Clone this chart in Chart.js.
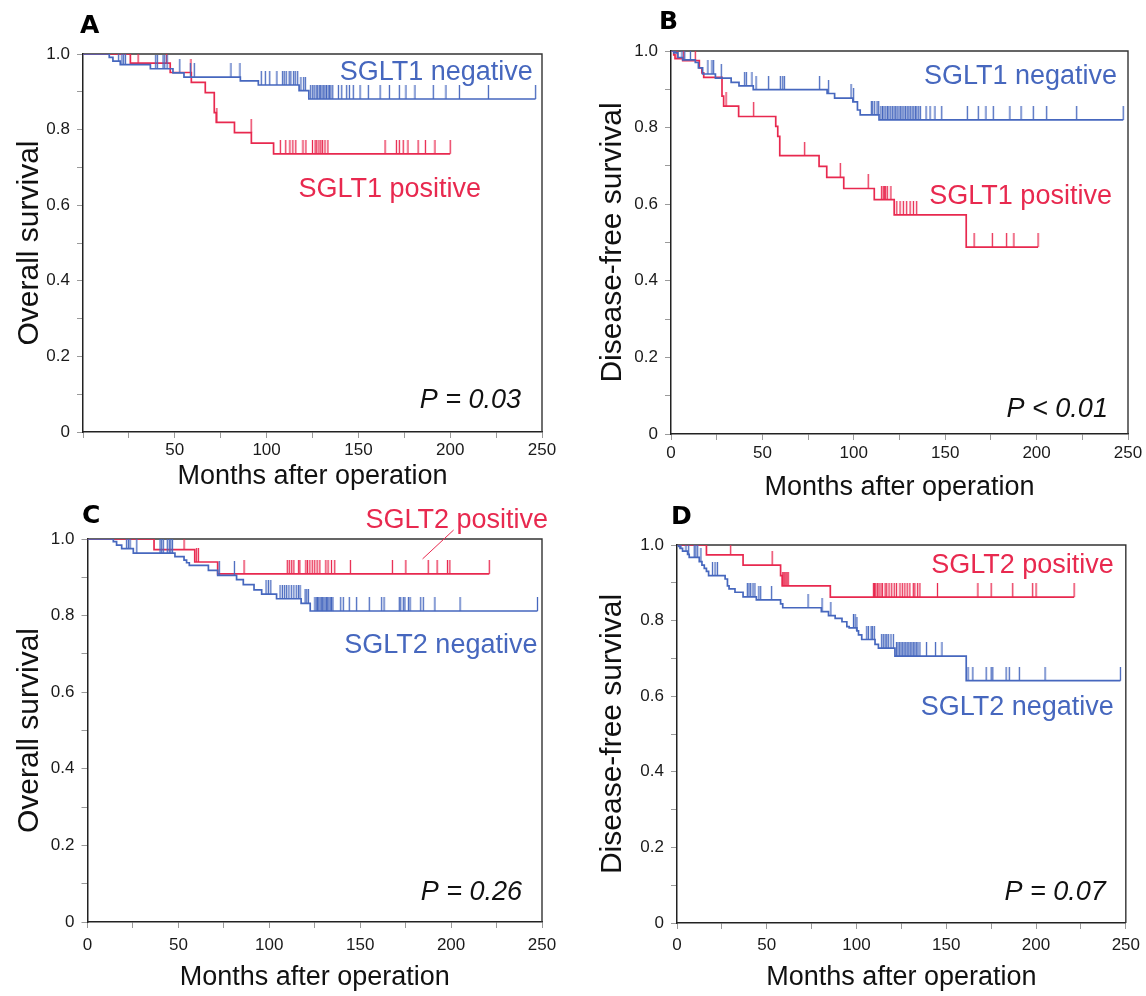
<!DOCTYPE html>
<html>
<head>
<meta charset="utf-8">
<title>SGLT1 / SGLT2 survival</title>
<script src="https://cdn.jsdelivr.net/npm/chart.js@4.4.1/dist/chart.umd.min.js"></script>
<style>
  html, body { margin: 0; padding: 0; background: #fff; }
  #wrap { position: relative; width: 1146px; height: 996px; }
  #wrap canvas { position: absolute; left: 0; top: 0; }
</style>
</head>
<body>
<div id="wrap">
  <canvas id="panelA" width="1146" height="996"></canvas>
  <canvas id="panelB" width="1146" height="996"></canvas>
  <canvas id="panelC" width="1146" height="996"></canvas>
  <canvas id="panelD" width="1146" height="996"></canvas>
</div>
<script>
// --- Panel A: overall survival, SGLT1 ---
// event times (months) and survival after each event, then censor times
const aNegTime = [14.3, 16.3, 20.3, 36.7, 49, 55, 85.7, 95.5, 117.7, 123];
const aNegSurv = [0.991, 0.981, 0.972, 0.961, 0.95, 0.939, 0.929, 0.918, 0.903, 0.881];
const aNegCens = [19.4, 21.2, 22.1, 23.1, 39.6, 40.5, 43.6, 44.5, 45.8, 52.7, 58.5, 60.6, 80.6, 85.5,
  97.1, 99.3, 101.7, 105.6, 108.7, 109.6, 110.7, 112.3, 113.2, 114.7, 115.6, 116.9, 118.7, 120.2, 121.1,
  124, 125.1, 125.9, 127, 127.8, 128.7, 129.4, 130.2, 131.1, 131.8, 132.6, 133.5, 134.2, 135, 136,
  139.1, 140.9, 143.6, 145.1, 147.2, 150.9, 155.4, 161.8, 166.9, 172.3, 175.9, 180.8, 190.8, 197.7,
  205, 220.8, 246.5];
const aPosTime = [25.8, 47.5, 59, 66.6, 71.5, 72.6, 82.5, 91.7, 103.8];
const aPosSurv = [0.976, 0.951, 0.925, 0.898, 0.845, 0.819, 0.792, 0.764, 0.736];
const aPosCens = [30, 45.5, 58.8, 72.9, 91.6, 107.5, 110.4, 112.7, 114.3, 115.9, 119.8, 121.4, 125, 126.4,
  127.3, 128.5, 129.5, 130.4, 131.8, 133.4, 164.5, 170.7, 172.3, 174.4, 177, 182.5, 186.5, 191.7, 200];

// --- Panel B: disease-free survival, SGLT1 ---
const bNegTime = [1.5, 3.8, 6.4, 13.3, 15, 17.3, 24.3, 32.9, 37.2, 45, 85.4, 89.5, 99.5, 102, 103.5, 113.8];
const bNegSurv = [0.995, 0.983, 0.977, 0.97, 0.956, 0.94, 0.929, 0.918, 0.909, 0.899, 0.889, 0.877,
  0.867, 0.846, 0.833, 0.82];
const bNegCens = [2.4, 6, 7.5, 10.6, 20.2, 22.4, 23.3, 27.5, 40.3, 41.2, 44.3, 46.5, 53.4, 59.8, 61.1, 62,
  81.3, 86.2, 98.5, 99.9, 109.6, 110.3, 111.4, 112.7, 113.6, 114.8, 115.7, 116.5, 117.5, 118.4, 119.2,
  120.2, 121.1, 122, 122.9, 123.7, 124.7, 125.6, 126.4, 127.4, 128.3, 129.2, 130.1, 130.9, 131.9, 132.8,
  133.7, 134.5, 135.5, 136.4, 139.5, 141.7, 144.4, 148.1, 162.1, 168.1, 172.3, 176.3, 185.4, 191.5,
  198.2, 205.5, 221.9, 247.4];
const bPosTime = [1.5, 2.2, 6.4, 15.5, 16.9, 17.9, 27.9, 28.8, 37, 57.3, 58.4, 59.5, 81, 85.2, 94.5,
  111.2, 122.1, 161.5];
const bPosSurv = [0.99, 0.98, 0.975, 0.956, 0.943, 0.931, 0.882, 0.856, 0.829, 0.803, 0.777, 0.727,
  0.699, 0.67, 0.641, 0.612, 0.572, 0.488];
const bPosCens = [3.3, 6.9, 13.3, 30.1, 45.2, 73.1, 92.6, 107.9, 115.2, 116.1, 116.7, 117.4, 118.3, 120.3,
  123.5, 125.3, 127.1, 128.9, 130.8, 132.6, 134.4, 165.8, 175.8, 183.6, 187.6, 200.8];

// --- Panel C: overall survival, SGLT2 ---
const cNegTime = [14.2, 16, 18.8, 25.2, 48.1, 53.1, 54.5, 56, 66.5, 71.6, 82, 85.7, 91.6, 95.8, 104,
  117.5, 122.5];
const cNegSurv = [0.993, 0.984, 0.975, 0.963, 0.954, 0.945, 0.938, 0.931, 0.918, 0.905, 0.894, 0.881,
  0.867, 0.856, 0.844, 0.832, 0.812];
const cNegCens = [21.5, 22.5, 23.4, 27.1, 39.9, 40.8, 41.7, 43.9, 45, 45.8, 46.7, 72.5, 80.8, 98.2, 99.5,
  100.8, 105.9, 107.2, 108.4, 109.5, 110.8, 112.1, 113.5, 114.8, 116, 116.9, 119.7, 120.6, 121.5,
  125.1, 125.8, 126.5, 127.2, 127.9, 128.6, 129.3, 130, 130.7, 131.4, 132.1, 132.8, 133.5, 134.2, 135,
  139.3, 140.7, 144, 148, 155, 161.8, 163.1, 171.5, 172.3, 173.7, 174.6, 176.5, 177.4, 183.3, 184.7,
  191.1, 204.9, 247.5];
const cPosTime = [36.6, 59, 71.6];
const cPosSurv = [0.972, 0.94, 0.909];
const cPosCens = [53.1, 60, 61, 86.1, 109.9, 111, 112.3, 113.5, 116.1, 116.8, 120.1, 121, 122.3, 123.6,
  125, 126.3, 127.8, 131.1, 132.3, 134.2, 136, 144.6, 167.7, 175.1, 187.4, 192.3, 198, 199.3, 221];

// --- Panel D: disease-free survival, SGLT2 ---
const dNegTime = [0.9, 1.7, 3.1, 5.9, 6.8, 12.4, 13.9, 15.2, 16.4, 17.6, 26.8, 28.1, 29, 32.3, 36.8, 44.2,
  57.7, 58.9, 80.4, 84.4, 88.1, 91.9, 94.6, 95.9, 100.2, 101.1, 102.9, 110.3, 112.2, 121.4, 161.1];
const dNegSurv = [0.996, 0.991, 0.984, 0.975, 0.967, 0.956, 0.947, 0.938, 0.93, 0.919, 0.91, 0.892, 0.884,
  0.875, 0.863, 0.855, 0.844, 0.834, 0.824, 0.813, 0.806, 0.797, 0.784, 0.781, 0.773, 0.762, 0.75,
  0.737, 0.727, 0.706, 0.641];
const dNegCens = [2.2, 5, 6.5, 9.6, 10.5, 11.5, 13.3, 19.8, 21.2, 22.5, 39.2, 40.1, 41, 42.3, 43.4, 45.6,
  46.6, 52.7, 73, 80.8, 85.7, 98.3, 99.2, 100.2, 105.7, 106.6, 108.1, 108.8, 109.9, 114, 114.9, 115.9,
  116.8, 117.7, 119.2, 120.5, 122.3, 123.1, 124, 124.8, 125.7, 126.5, 127.4, 128.2, 129.1, 129.9, 130.8,
  131.6, 132.5, 133.3, 134.2, 135.3, 139, 144, 147.6, 162.1, 164.8, 172.2, 175, 175.9, 183.3, 185.1,
  190.7, 205, 247];
const dPosTime = [16.4, 36.8, 57.7, 58.6, 85.4];
const dPosSurv = [0.974, 0.947, 0.919, 0.892, 0.862];
const dPosCens = [29.9, 53, 58.9, 59.5, 60.1, 60.7, 61.3, 61.9, 109.4, 110, 110.7, 111.6, 112.5, 113.6,
  114.4, 115.9, 116.8, 118.1, 119.6, 121, 122.3, 124.2, 125.5, 126.9, 128.2, 129.7, 131.6, 132.5, 134,
  135.3, 145.1, 167.6, 175, 187, 198.1, 200, 221.2];

// axis ticks
const xTickValues = [0, 50, 100, 150, 200, 250];
const yTickValues = [0, 0.2, 0.4, 0.6, 0.8, 1.0];

const BLUE = '#4667be';
const RED = '#e8294f';
const FONT = '"Liberation Sans", Arial, Helvetica, sans-serif';
const YW = 80;   // width of the y axis box
const XH = 70;   // height of the x axis box

// survival value of the step curve at time t
function survAt(times, surv, t) {
  let s = 1;
  for (let i = 0; i < times.length; i++) {
    if (times[i] <= t) s = surv[i];
  }
  return s;
}

function kmPoints(times, surv, cens) {
  const end = Math.max(times[times.length - 1], cens[cens.length - 1]);
  const pts = [{ x: 0, y: 1 }];
  times.forEach((t, i) => pts.push({ x: t, y: surv[i] }));
  pts.push({ x: end, y: surv[surv.length - 1] });
  return pts;
}

// censor tick: a short vertical stroke above the point
function censorMark(color) {
  const c = document.createElement('canvas');
  c.width = 3;
  c.height = 28;
  const g = c.getContext('2d');
  g.strokeStyle = color;
  g.lineWidth = 1.3;
  g.beginPath();
  g.moveTo(1.5, 0);
  g.lineTo(1.5, 14);
  g.stroke();
  return c;
}

function curveDatasets(times, surv, cens, color) {
  return [
    {
      data: kmPoints(times, surv, cens),
      stepped: true,
      borderColor: color,
      borderWidth: 1.7,
      pointRadius: 0,
      fill: false
    },
    {
      data: cens.map(t => ({ x: t, y: survAt(times, surv, t) })),
      showLine: false,
      pointStyle: censorMark(color),
      pointRadius: 3,
      borderWidth: 0
    }
  ];
}

const panels = [
  {
    id: 'panelA', letter: 'A', letterPos: [80, 33],
    box: { l: 83, t: 54, r: 542, b: 432 },
    yTitle: 'Overall survival', yTitleX: 30, xTitleY: 477, xTickPad: 2, zeroLabel: false,
    curves: [[aNegTime, aNegSurv, aNegCens, BLUE], [aPosTime, aPosSurv, aPosCens, RED]],
    labels: [
      { text: 'SGLT1 negative', color: BLUE, t: 245, v: 0.931 },
      { text: 'SGLT1 positive', color: RED, t: 216.8, v: 0.622 },
      { text: 'P = 0.03', color: '#111', t: 238.6, v: 0.0635, italic: true }
    ]
  },
  {
    id: 'panelB', letter: 'B', letterPos: [659, 29],
    box: { l: 671, t: 51, r: 1128, b: 434 },
    yTitle: 'Disease-free survival', yTitleX: 613, xTitleY: 488, xTickPad: 3, zeroLabel: true,
    curves: [[bNegTime, bNegSurv, bNegCens, BLUE], [bPosTime, bPosSurv, bPosCens, RED]],
    labels: [
      { text: 'SGLT1 negative', color: BLUE, t: 244, v: 0.914 },
      { text: 'SGLT1 positive', color: RED, t: 241.2, v: 0.6005 },
      { text: 'P < 0.01', color: '#111', t: 239, v: 0.0444, italic: true }
    ]
  },
  {
    id: 'panelC', letter: 'C', letterPos: [82, 523],
    box: { l: 87.5, t: 539, r: 542, b: 922 },
    yTitle: 'Overall survival', yTitleX: 30, xTitleY: 978, xTickPad: 7, zeroLabel: true,
    curves: [[cNegTime, cNegSurv, cNegCens, BLUE], [cPosTime, cPosSurv, cPosCens, RED]],
    labels: [
      { text: 'SGLT2 positive', color: RED, t: 253.3, v: 1.029 },
      { text: 'SGLT2 negative', color: BLUE, t: 247.5, v: 0.702 },
      { text: 'P = 0.26', color: '#111', t: 239, v: 0.0574, italic: true }
    ],
    leader: { color: RED, from: [184.3, 0.948], to: [201.4, 1.0235] }
  },
  {
    id: 'panelD', letter: 'D', letterPos: [671, 524],
    box: { l: 677, t: 545, r: 1128, b: 923 },
    yTitle: 'Disease-free survival', yTitleX: 613, xTitleY: 978, xTickPad: 6, zeroLabel: true,
    curves: [[dNegTime, dNegSurv, dNegCens, BLUE], [dPosTime, dPosSurv, dPosCens, RED]],
    labels: [
      { text: 'SGLT2 positive', color: RED, t: 243.3, v: 0.925 },
      { text: 'SGLT2 negative', color: BLUE, t: 243.3, v: 0.5495 },
      { text: 'P = 0.07', color: '#111', t: 238.9, v: 0.06, italic: true }
    ]
  }
];

// top and right edges of the box
const framePlugin = {
  id: 'frame',
  beforeDatasetsDraw(chart) {
    const { ctx, chartArea: a } = chart;
    ctx.save();
    ctx.strokeStyle = '#333';
    ctx.lineWidth = 1.4;
    ctx.beginPath();
    ctx.moveTo(a.left, a.top);
    ctx.lineTo(a.right, a.top);
    ctx.lineTo(a.right, a.bottom);
    ctx.stroke();
    ctx.restore();
  }
};

const textPlugin = {
  id: 'panelText',
  afterDraw(chart, args, opts) {
    const p = opts.panel;
    const { ctx } = chart;
    const x = chart.scales.x, y = chart.scales.y;
    ctx.save();
    ctx.textBaseline = 'alphabetic';
    ctx.fillStyle = '#000';
    ctx.textAlign = 'left';
    ctx.font = 'bold 25px "DejaVu Sans", sans-serif';
    ctx.fillText(p.letter, p.letterPos[0], p.letterPos[1]);

    ctx.textAlign = 'right';
    p.labels.forEach(l => {
      ctx.font = (l.italic ? 'italic ' : '') + '27px ' + FONT;
      ctx.fillStyle = l.color;
      ctx.fillText(l.text, x.getPixelForValue(l.t), y.getPixelForValue(l.v));
    });

    if (p.leader) {
      ctx.strokeStyle = p.leader.color;
      ctx.lineWidth = 1;
      ctx.beginPath();
      ctx.moveTo(x.getPixelForValue(p.leader.from[0]), y.getPixelForValue(p.leader.from[1]));
      ctx.lineTo(x.getPixelForValue(p.leader.to[0]), y.getPixelForValue(p.leader.to[1]));
      ctx.stroke();
    }
    ctx.restore();
  }
};

function buildPanel(p) {
  const datasets = [];
  p.curves.forEach(c => datasets.push(...curveDatasets(c[0], c[1], c[2], c[3])));

  const yTitleSize = 30, xTitleSize = 27;
  const yTitlePad = p.yTitleX - (p.box.l - YW) - yTitleSize * 1.2 / 2;
  const xTitlePad = p.box.b + XH - xTitleSize * 1.2 / 2 - p.xTitleY;

  new Chart(document.getElementById(p.id), {
    type: 'line',
    data: { datasets },
    options: {
      responsive: false,
      animation: false,
      devicePixelRatio: 1,
      events: [],
      layout: {
        padding: {
          left: p.box.l - YW,
          top: p.box.t,
          right: 1146 - p.box.r,
          bottom: 996 - p.box.b - XH
        }
      },
      plugins: {
        legend: { display: false },
        tooltip: { enabled: false },
        panelText: { panel: p }
      },
      scales: {
        x: {
          type: 'linear',
          min: 0,
          max: 250,
          afterFit: s => { s.height = XH; },
          ticks: {
            stepSize: 25,
            autoSkip: false,
            maxRotation: 0,
            padding: p.xTickPad,
            color: '#1a1a1a',
            font: { size: 17, family: FONT },
            callback: v => (xTickValues.includes(v) && (v > 0 || p.zeroLabel)) ? String(v) : ''
          },
          grid: { drawOnChartArea: false, drawTicks: true, tickLength: 6, color: '#9a9a9a' },
          border: { color: '#222', width: 1.5 },
          title: {
            display: true,
            text: 'Months after operation',
            color: '#111',
            font: { size: xTitleSize, family: FONT },
            padding: { top: 0, bottom: xTitlePad }
          }
        },
        y: {
          min: 0,
          max: 1,
          afterFit: s => { s.width = YW; },
          ticks: {
            stepSize: 0.1,
            autoSkip: false,
            padding: 7,
            color: '#1a1a1a',
            font: { size: 17, family: FONT },
            callback: v => {
              const k = Math.round(v * 10);
              if (!yTickValues.some(t => Math.round(t * 10) === k)) return '';
              return k === 0 ? '0' : (k / 10).toFixed(1);
            }
          },
          grid: { drawOnChartArea: false, drawTicks: true, tickLength: 6, color: '#9a9a9a' },
          border: { color: '#222', width: 1.5 },
          title: {
            display: true,
            text: p.yTitle,
            color: '#111',
            font: { size: yTitleSize, family: FONT },
            padding: { top: yTitlePad, bottom: 0 }
          }
        }
      }
    },
    plugins: [framePlugin, textPlugin]
  });
}

panels.forEach(buildPanel);
</script>
</body>
</html>
